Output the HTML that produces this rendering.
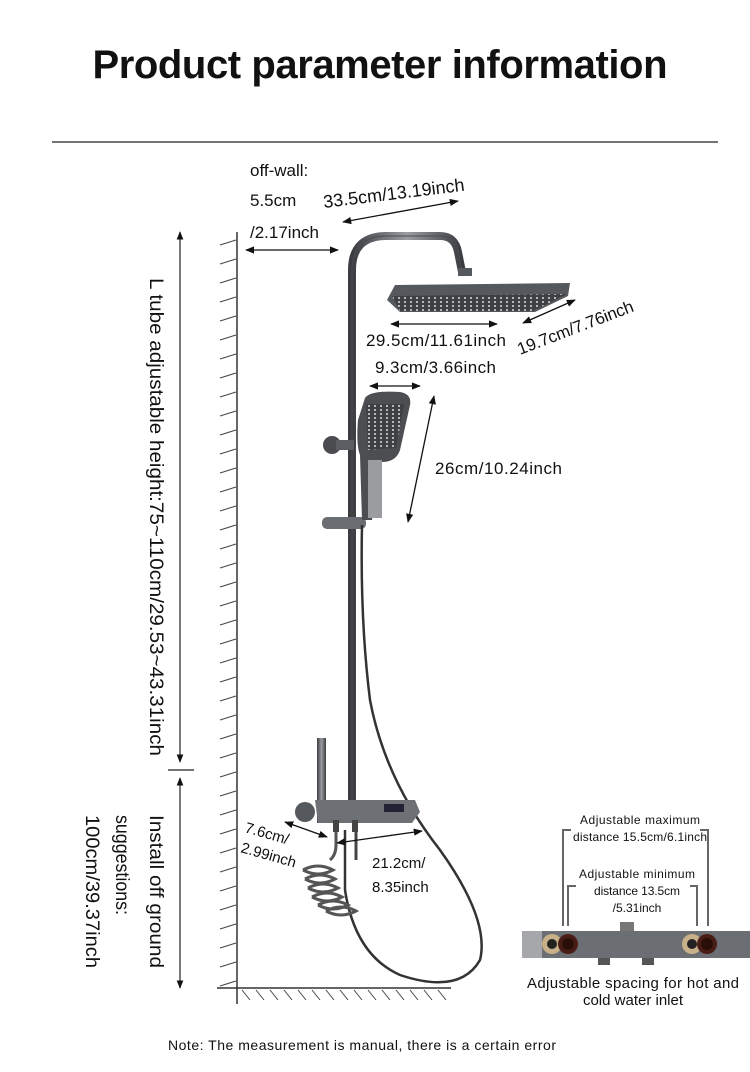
<!DOCTYPE html>
<html><head><meta charset="utf-8"><style>
html,body{margin:0;padding:0;background:#fff}
svg{display:block}
text{font-family:"Liberation Sans",sans-serif;fill:#111}
</style></head><body>
<svg width="750" height="1072" viewBox="0 0 750 1072" xmlns="http://www.w3.org/2000/svg">
<defs>
<marker id="a" viewBox="0 0 10 10" refX="9" refY="5" markerWidth="7" markerHeight="7" orient="auto-start-reverse"><path d="M0,1 L10,5 L0,9 z" fill="#111"/></marker>
<linearGradient id="pole" x1="0" x2="1"><stop offset="0" stop-color="#3a3c40"/><stop offset=".5" stop-color="#9a9da2"/><stop offset="1" stop-color="#3a3c40"/></linearGradient>
<pattern id="dots" width="6" height="4" patternUnits="userSpaceOnUse"><rect width="6" height="4" fill="#3e4044"/><circle cx="3" cy="2" r="1" fill="#ddd"/></pattern>
</defs>
<text x="380" y="78" font-size="40" font-weight="bold" text-anchor="middle" textLength="575">Product parameter information</text>
<line x1="52" y1="142" x2="718" y2="142" stroke="#222" stroke-width="1.2"/>

<!-- wall -->
<line x1="237" y1="232" x2="237" y2="1004" stroke="#333" stroke-width="1.5"/>
<g stroke="#444" stroke-width="1">
<path d="M220 245 L236 240 M220 264 L236 259 M220 283 L236 278 M220 302 L236 297 M220 321 L236 316 M220 340 L236 335 M220 359 L236 354 M220 378 L236 373 M220 397 L236 392 M220 416 L236 411 M220 435 L236 430 M220 454 L236 449 M220 473 L236 468 M220 492 L236 487 M220 511 L236 506 M220 530 L236 525 M220 549 L236 544 M220 568 L236 563 M220 587 L236 582 M220 606 L236 601 M220 625 L236 620 M220 644 L236 639 M220 663 L236 658 M220 682 L236 677 M220 701 L236 696 M220 720 L236 715 M220 739 L236 734 M220 758 L236 753 M220 777 L236 772 M220 796 L236 791 M220 815 L236 810 M220 834 L236 829 M220 853 L236 848 M220 872 L236 867 M220 891 L236 886 M220 910 L236 905 M220 929 L236 924 M220 948 L236 943 M220 967 L236 962 M220 986 L236 981"/>
</g>
<line x1="217" y1="988" x2="451" y2="988" stroke="#333" stroke-width="1.5"/>
<g stroke="#444" stroke-width="1">
<path d="M242 990 l8 10 M256 990 l8 10 M270 990 l8 10 M284 990 l8 10 M298 990 l8 10 M312 990 l8 10 M326 990 l8 10 M340 990 l8 10 M354 990 l8 10 M368 990 l8 10 M382 990 l8 10 M396 990 l8 10 M410 990 l8 10 M424 990 l8 10 M438 990 l8 10"/>
</g>

<!-- vertical dims -->
<line x1="180" y1="232" x2="180" y2="762" stroke="#222" stroke-width="1.2" marker-start="url(#a)" marker-end="url(#a)"/>
<line x1="168" y1="770" x2="194" y2="770" stroke="#222" stroke-width="1.2"/>
<line x1="180" y1="778" x2="180" y2="988" stroke="#222" stroke-width="1.2" marker-start="url(#a)" marker-end="url(#a)"/>
<text transform="translate(150,278) rotate(90)" font-size="19" textLength="478" lengthAdjust="spacingAndGlyphs">L tube adjustable height:75~110cm/29.53~43.31inch</text>
<text transform="translate(150,815) rotate(90)" font-size="19" textLength="153" lengthAdjust="spacingAndGlyphs">Install off ground</text>
<text transform="translate(116,815) rotate(90)" font-size="19" textLength="100" lengthAdjust="spacingAndGlyphs">suggestions:</text>
<text transform="translate(86,815) rotate(90)" font-size="19" textLength="153" lengthAdjust="spacingAndGlyphs">100cm/39.37inch</text>

<!-- shower body -->
<path d="M352 815 L352 270 Q352 237 385 236 L440 236 Q455 236 458 252 L462 272" fill="none" stroke="url(#pole)" stroke-width="8"/>
<path d="M352 815 L352 270 Q352 237 385 236 L440 236 Q455 236 458 252 L462 272" fill="none" stroke="#4a4c50" stroke-width="1"/>
<rect x="458" y="268" width="14" height="8" fill="#55585c"/>
<path d="M395 285 L570 283 L568 296 L535 312 L400 312 L387 300 Z" fill="#55585c"/>
<path d="M392 296 L567 294 L533 311 L400 311 Z" fill="url(#dots)"/>
<circle cx="332" cy="445" r="9" fill="#4a4c50"/><rect x="336" y="440" width="18" height="10" fill="#5a5d61"/>
<rect x="322" y="517" width="44" height="12" rx="5" fill="#6a6d72"/>
<path d="M365 398 Q370 390 400 392 Q412 394 410 405 L400 450 Q396 462 382 462 L372 520 L362 520 L360 455 Q356 445 358 420 Z" fill="#4c4e52"/>
<path d="M366 404 L404 404 L396 448 L368 450 Z" fill="url(#dots)"/>
<rect x="368" y="460" width="14" height="58" fill="#9a9ca0"/>
<path d="M362 525 Q360 620 370 700 Q385 780 440 850 Q490 920 480 960 Q460 995 400 975 Q355 955 345 890 L345 830" fill="none" stroke="#333" stroke-width="2.5"/>
<rect x="317" y="738" width="9" height="85" fill="url(#pole)"/>
<circle cx="305" cy="812" r="10" fill="#55585c"/>
<path d="M315 800 L415 800 L420 812 L412 823 L318 823 Z" fill="#6d7075"/>
<rect x="384" y="804" width="20" height="8" fill="#223"/>
<rect x="333" y="820" width="6" height="12" fill="#444"/><rect x="352" y="820" width="6" height="12" fill="#444"/>
<path d="M336 832 L336 845 Q336 855 330 860" fill="none" stroke="#555" stroke-width="3"/>
<path d="M303 870 q15 -8 30 0 q-15 8 -30 0 m2 9 q15 -8 30 0 q-15 8 -30 0 m3 9 q15 -8 30 0 q-15 8 -30 0 m4 9 q15 -8 30 0 q-15 8 -30 0 m6 8 q15 -8 30 0 q-15 8 -30 0 m8 6 q15 -8 30 0 q-15 8 -30 0" fill="none" stroke="#555" stroke-width="3"/>
<path d="M356 832 L356 860" stroke="#444" stroke-width="3"/>

<g stroke="#111" stroke-width="1.3" fill="none">
<line x1="246" y1="250" x2="338" y2="250" marker-start="url(#a)" marker-end="url(#a)"/>
<line x1="343" y1="222" x2="458" y2="201" marker-start="url(#a)" marker-end="url(#a)"/>
<line x1="391" y1="324" x2="497" y2="324" marker-start="url(#a)" marker-end="url(#a)"/>
<line x1="523" y1="323" x2="575" y2="300" marker-start="url(#a)" marker-end="url(#a)"/>
<line x1="370" y1="386" x2="420" y2="386" marker-start="url(#a)" marker-end="url(#a)"/>
<line x1="408" y1="522" x2="434" y2="396" marker-start="url(#a)" marker-end="url(#a)"/>
<line x1="285" y1="822" x2="327" y2="837" marker-start="url(#a)" marker-end="url(#a)"/>
<line x1="337" y1="843" x2="422" y2="831" marker-start="url(#a)" marker-end="url(#a)"/>
</g>
<g font-size="17">
<text x="250" y="176">off-wall:</text>
<text x="250" y="206">5.5cm</text>
<text x="250" y="238">/2.17inch</text>
<text transform="translate(324,208) rotate(-7)" font-size="18">33.5cm/13.19inch</text>
<text x="366" y="346" textLength="140">29.5cm/11.61inch</text>
<text transform="translate(520,355) rotate(-21)" textLength="123">19.7cm/7.76inch</text>
<text x="375" y="373" textLength="121">9.3cm/3.66inch</text>
<text x="435" y="474" textLength="127">26cm/10.24inch</text>
<text transform="translate(244,832) rotate(16)" font-size="15">7.6cm/</text>
<text transform="translate(240,852) rotate(16)" font-size="15">2.99inch</text>
<text x="372" y="868" font-size="15">21.2cm/</text>
<text x="372" y="892" font-size="15">8.35inch</text>
</g>

<!-- inset -->
<g font-size="12" text-anchor="middle">
<text x="640" y="824" textLength="120">Adjustable maximum</text>
<text x="640" y="841" textLength="134">distance 15.5cm/6.1inch</text>
<text x="637" y="878" textLength="116">Adjustable minimum</text>
<text x="637" y="895" textLength="86">distance 13.5cm</text>
<text x="637" y="912">/5.31inch</text>
</g>
<g stroke="#666" stroke-width="2" fill="none">
<path d="M563 926 L563 830 L571 830 M700 830 L708 830 L708 926"/>
<path d="M568 926 L568 886 L576 886 M690 886 L697 886 L697 926"/>
</g>
<rect x="620" y="922" width="14" height="9" fill="#777"/>
<rect x="522" y="931" width="228" height="27" fill="#6b6e72"/>
<rect x="522" y="931" width="20" height="27" fill="#a5a7aa"/>
<rect x="598" y="958" width="12" height="7" fill="#555"/><rect x="642" y="958" width="12" height="7" fill="#555"/>
<circle cx="552" cy="944" r="10" fill="#c8b089"/><circle cx="552" cy="944" r="5" fill="#222"/>
<circle cx="568" cy="944" r="10" fill="#4a1c16"/><circle cx="568" cy="944" r="6" fill="#2a0e0a"/>
<circle cx="692" cy="944" r="10" fill="#c8b089"/><circle cx="692" cy="944" r="5" fill="#222"/>
<circle cx="707" cy="944" r="10" fill="#4a1c16"/><circle cx="707" cy="944" r="6" fill="#2a0e0a"/>
<text x="633" y="988" font-size="15" text-anchor="middle" textLength="212">Adjustable spacing for hot and</text>
<text x="633" y="1005" font-size="15" text-anchor="middle">cold water inlet</text>

<text x="168" y="1050" font-size="14" textLength="388">Note: The measurement is manual, there is a certain error</text>
</svg>
</body></html>
